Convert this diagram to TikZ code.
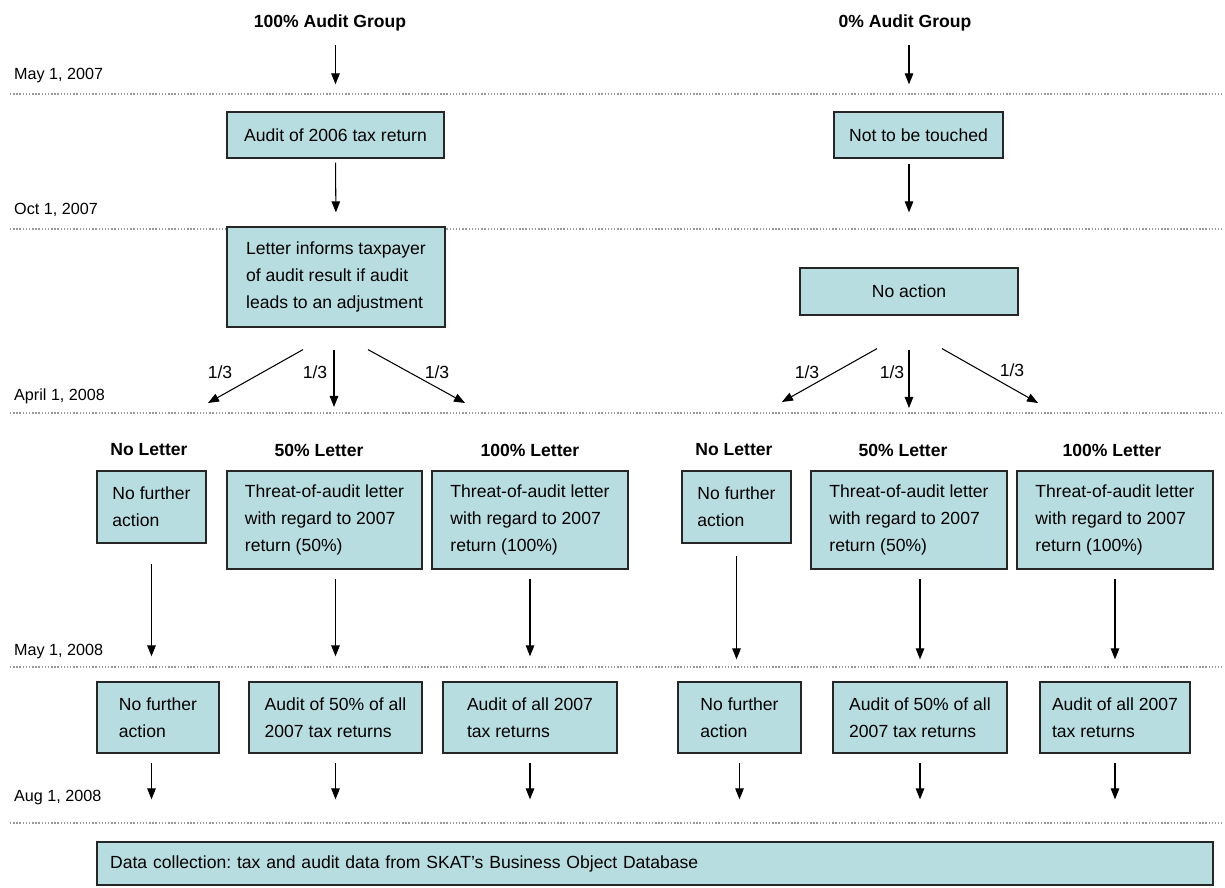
\documentclass[tikz,border=0pt]{standalone}
\usepackage{fontspec}
\setmainfont{Liberation Sans}
\usepackage{tikz}
\usetikzlibrary{arrows.meta,shapes}
\definecolor{boxblue}{RGB}{184,221,224}
\frenchspacing

\begin{document}
\begin{tikzpicture}[x=0.02cm,y=-0.02cm]
	\tikzstyle{box}=[rectangle,draw=black!85,line width=.7pt,fill=boxblue,align=left,font=\fontsize{10}{15.3}\selectfont]
	\tikzstyle{head}=[font=\fontsize{10}{12}\selectfont\bfseries]
	\tikzstyle{date}=[anchor=west,font=\fontsize{9.2}{11}\selectfont]
	\tikzstyle{share}=[font=\fontsize{10}{12}\selectfont]
	\tikzstyle{arr}=[line width=.6pt,-{Triangle[length=.22cm,width=.17cm]}]
	\tikzstyle{timeline}=[gray!80,densely dotted,line width=.8pt]

	\useasboundingbox (0,0) rectangle (1225,888);

	% time axis
	\foreach \y in {94,229,413,667,823}
		\draw[timeline] (10,\y) -- (1222,\y);
	\node[date] (may07) at (8,76) {May 1, 2007};
	\node[date] (oct07) at (8,210) {Oct 1, 2007};
	\node[date] (apr08) at (8,396) {April 1, 2008};
	\node[date] (may08) at (8,652) {May 1, 2008};
	\node[date] (aug08) at (8,798) {Aug 1, 2008};

	% the two groups
	\node[head] (grpA) at (330,23) {100\% Audit Group};
	\node[head] (grpB) at (905,23) {0\% Audit Group};

	\node[box,minimum width=4.34cm,minimum height=.92cm] (audit06) at (335.5,135) {Audit of 2006 tax return};
	\node[box,minimum width=3.38cm,minimum height=.92cm] (untouched) at (918.5,135) {Not to be touched};
	\node[box,minimum width=4.36cm,minimum height=2cm] (inform) at (336,277) {Letter informs taxpayer\\of audit result if audit\\leads to an adjustment};
	\node[box,minimum width=4.36cm,minimum height=.94cm] (noaction) at (909,291.5) {No action};

	\draw[arr,shorten <=.16cm,shorten >=.54cm] (audit06.north |- grpA.south) -- (audit06.north);
	\draw[arr,shorten <=.16cm,shorten >=.54cm] (noaction.north |- grpB.south) -- (noaction.north |- untouched.north);
	\draw[arr,shorten <=.08cm,shorten >=.28cm] (audit06.south) -- (inform.north);
	\draw[arr,shorten <=.1cm,shorten >=1.1cm] (noaction.north |- untouched.south) -- (noaction.north);

	% random split into thirds
	\coordinate (endAl) at (208,403);
	\coordinate (endAm) at (334,407);
	\coordinate (endAr) at (465,403);
	\coordinate (endBl) at (782,402);
	\coordinate (endBm) at (909,408);
	\coordinate (endBr) at (1038,403);
	\draw[arr] ([shift={(-33,22)}]inform.south) -- (endAl);
	\draw[arr] ([shift={(-2,22)}]inform.south) -- (endAm);
	\draw[arr] ([shift={(32,22)}]inform.south) -- (endAr);
	\draw[arr] ([shift={(-32,33)}]noaction.south) -- (endBl);
	\draw[arr] ([shift={(0,34)}]noaction.south) -- (endBm);
	\draw[arr] ([shift={(33,33)}]noaction.south) -- (endBr);
	\node[share] (shAl) at (220,372) {1/3};
	\node[share] (shAm) at (315,372) {1/3};
	\node[share] (shAr) at (437,372) {1/3};
	\node[share] (shBl) at (807,372) {1/3};
	\node[share] (shBm) at (892,372) {1/3};
	\node[share] (shBr) at (1012,370) {1/3};

	% letters
	\node[head] (noA) at (149,450) {No Letter};
	\node[head] (halfA) at (319,450) {50\% Letter};
	\node[head] (fullA) at (530,450) {100\% Letter};
	\node[head] (noB) at (734,450) {No Letter};
	\node[head] (halfB) at (903,450) {50\% Letter};
	\node[head] (fullB) at (1112,450) {100\% Letter};

	\node[box,minimum width=2.18cm,minimum height=1.44cm] (nfA1) at (151.5,507) {No further\\action};
	\node[box,minimum width=3.9cm,minimum height=1.96cm] (thr50A) at (324.5,520) {Threat-of-audit letter\\with regard to 2007\\return (50\%)};
	\node[box,minimum width=3.92cm,minimum height=1.96cm] (thr100A) at (530,520) {Threat-of-audit letter\\with regard to 2007\\return (100\%)};
	\node[box,minimum width=2.18cm,minimum height=1.44cm] (nfB1) at (736.5,507) {No further\\action};
	\node[box,minimum width=3.92cm,minimum height=1.96cm] (thr50B) at (909,520) {Threat-of-audit letter\\with regard to 2007\\return (50\%)};
	\node[box,minimum width=3.92cm,minimum height=1.96cm] (thr100B) at (1115,520) {Threat-of-audit letter\\with regard to 2007\\return (100\%)};

	% audits of 2007 returns
	\node[box,minimum width=2.44cm,minimum height=1.42cm] (nfA2) at (158,717.5) {No further\\action};
	\node[box,minimum width=3.46cm,minimum height=1.42cm] (au50A) at (335.5,717.5) {Audit of 50\% of all\\2007 tax returns};
	\node[box,minimum width=3.48cm,minimum height=1.42cm] (au100A) at (530,717.5) {Audit of all 2007\\tax returns};
	\node[box,minimum width=2.46cm,minimum height=1.42cm] (nfB2) at (739.5,717.5) {No further\\action};
	\node[box,minimum width=3.48cm,minimum height=1.42cm] (au50B) at (920,717.5) {Audit of 50\% of all\\2007 tax returns};
	\node[box,minimum width=3cm,minimum height=1.42cm] (au100B) at (1115,717.5) {Audit of all 2007\\tax returns};

	\draw[arr,shorten <=.4cm,shorten >=.5cm] (nfA1.south) -- (nfA1.south |- nfA2.north);
	\draw[arr,shorten <=.18cm,shorten >=.5cm] (au50A.north |- thr50A.south) -- (au50A.north);
	\draw[arr,shorten <=.18cm,shorten >=.5cm] (thr100A.south) -- (au100A.north);
	\draw[arr,shorten <=.24cm,shorten >=.44cm] (nfB1.south) -- (nfB1.south |- nfB2.north);
	\draw[arr,shorten <=.18cm,shorten >=.44cm] (au50B.north |- thr50B.south) -- (au50B.north);
	\draw[arr,shorten <=.18cm,shorten >=.44cm] (thr100B.south) -- (au100B.north);

	% data collection
	\node[box,minimum width=22.32cm,minimum height=.86cm,text width=21.8cm] (data) at (655,863.5) {Data collection: tax and audit data from SKAT's Business Object Database};

	\draw[arr,shorten <=.18cm,shorten >=.84cm] (nfA1.south |- nfA2.south) -- (nfA1.south |- data.north);
	\foreach \n in {au50A,au100A,nfB2,au50B,au100B}
		\draw[arr,shorten <=.18cm,shorten >=.84cm] (\n.south) -- (\n.south |- data.north);
\end{tikzpicture}
\end{document}
